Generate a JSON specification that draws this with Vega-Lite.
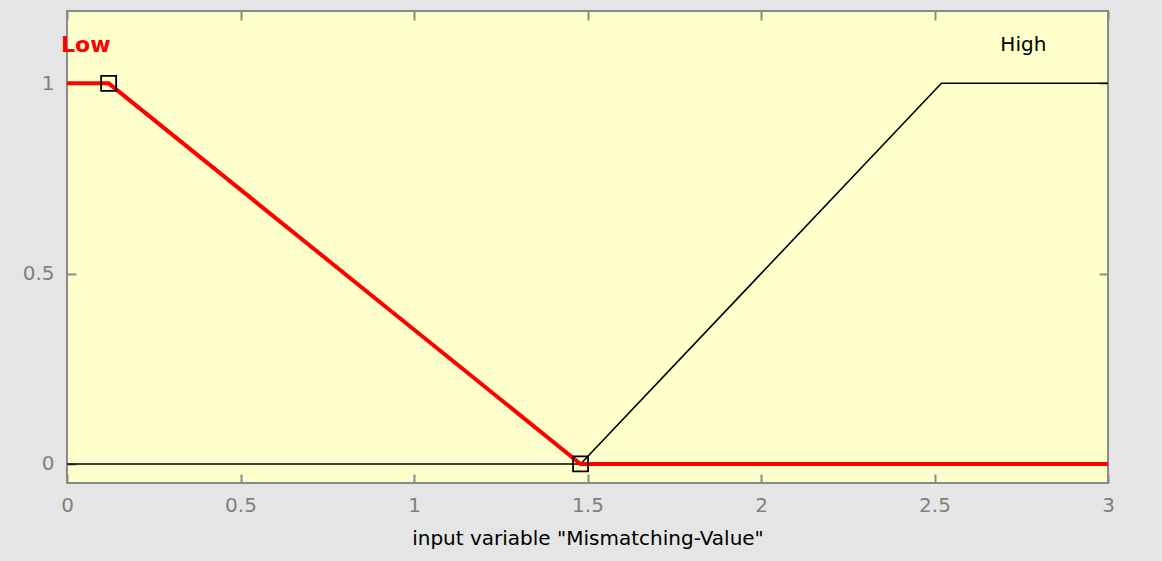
{
  "$schema": "https://vega.github.io/schema/vega-lite/v6.json",
  "width": 1041,
  "height": 472,
  "autosize": {"type": "none"},
  "padding": {"left": 67, "top": 11, "right": 54, "bottom": 78},
  "background": "#e5e5e5",
  "config": {
    "font": "DejaVu Sans",
    "view": {"fill": "#ffffcc", "stroke": "#8a8a8a", "strokeWidth": 2},
    "axis": {
      "grid": false,
      "domain": false,
      "tickColor": "#8a8a8a",
      "tickWidth": 2,
      "tickSize": -9,
      "labelColor": "#7f7f7f",
      "labelFont": "DejaVu Sans",
      "labelFontSize": 20,
      "titleFont": "DejaVu Sans",
      "titleFontSize": 20,
      "titleFontWeight": "normal",
      "titleColor": "#000000"
    }
  },
  "datasets": {
    "mf": [
      {"mf": "High", "i": 0, "x": 0, "y": 0},
      {"mf": "High", "i": 1, "x": 1.48, "y": 0},
      {"mf": "High", "i": 2, "x": 2.52, "y": 1},
      {"mf": "High", "i": 3, "x": 3, "y": 1},
      {"mf": "Low", "i": 0, "x": 0, "y": 1},
      {"mf": "Low", "i": 1, "x": 0.12, "y": 1},
      {"mf": "Low", "i": 2, "x": 1.48, "y": 0},
      {"mf": "Low", "i": 3, "x": 3, "y": 0}
    ],
    "handles": [
      {"x": 0.12, "y": 1},
      {"x": 1.48, "y": 0}
    ],
    "labels": [
      {"name": "Low", "x": 0.054, "y": 1.1},
      {"name": "High", "x": 2.756, "y": 1.1}
    ]
  },
  "resolve": {"axis": {"x": "independent", "y": "independent"}},
  "layer": [
    {
      "data": {"name": "mf"},
      "transform": [{"filter": "datum.mf === 'High'"}],
      "mark": {"type": "line", "color": "#000000", "strokeWidth": 1.6},
      "encoding": {
        "x": {
          "field": "x", "type": "quantitative",
          "scale": {"domain": [0, 3], "nice": false, "zero": false},
          "axis": {
            "orient": "bottom",
            "values": [0, 0.5, 1, 1.5, 2, 2.5, 3],
            "format": "~g",
            "labelPadding": 21,
            "labelFlush": false,
            "labelOverlap": false,
            "title": "input variable \"Mismatching-Value\"",
            "titleBaseline": "alphabetic",
            "titleY": 61
          }
        },
        "y": {
          "field": "y", "type": "quantitative",
          "scale": {"domain": [-0.05, 1.19], "nice": false, "zero": false},
          "axis": {
            "orient": "left",
            "values": [0, 0.5, 1],
            "format": "~g",
            "labelPadding": 22,
            "labelFlush": false,
            "title": null
          }
        },
        "order": {"field": "i", "type": "quantitative"}
      }
    },
    {
      "data": {"name": "mf"},
      "transform": [{"filter": "datum.mf === 'Low'"}],
      "mark": {"type": "line", "color": "#ff0000", "strokeWidth": 4},
      "encoding": {
        "x": {
          "field": "x", "type": "quantitative",
          "axis": {
            "orient": "top",
            "values": [0, 0.5, 1, 1.5, 2, 2.5, 3],
            "labels": false,
            "title": null
          }
        },
        "y": {
          "field": "y", "type": "quantitative",
          "axis": {
            "orient": "right",
            "values": [0, 0.5, 1],
            "labels": false,
            "title": null
          }
        },
        "order": {"field": "i", "type": "quantitative"}
      }
    },
    {
      "data": {"name": "handles"},
      "mark": {"type": "square", "filled": false, "color": "#000000", "strokeWidth": 1.8, "size": 225, "opacity": 1},
      "encoding": {
        "x": {"field": "x", "type": "quantitative", "axis": null},
        "y": {"field": "y", "type": "quantitative", "axis": null}
      }
    },
    {
      "data": {"name": "labels"},
      "transform": [{"filter": "datum.name === 'Low'"}],
      "mark": {"type": "text", "fontSize": 22, "fontWeight": "bold", "color": "#ff0000", "baseline": "middle", "align": "center", "font": "DejaVu Sans"},
      "encoding": {
        "x": {"field": "x", "type": "quantitative", "axis": null},
        "y": {"field": "y", "type": "quantitative", "axis": null},
        "text": {"field": "name"}
      }
    },
    {
      "data": {"name": "labels"},
      "transform": [{"filter": "datum.name === 'High'"}],
      "mark": {"type": "text", "fontSize": 20, "color": "#000000", "baseline": "middle", "align": "center", "font": "DejaVu Sans"},
      "encoding": {
        "x": {"field": "x", "type": "quantitative", "axis": null},
        "y": {"field": "y", "type": "quantitative", "axis": null},
        "text": {"field": "name"}
      }
    }
  ]
}
